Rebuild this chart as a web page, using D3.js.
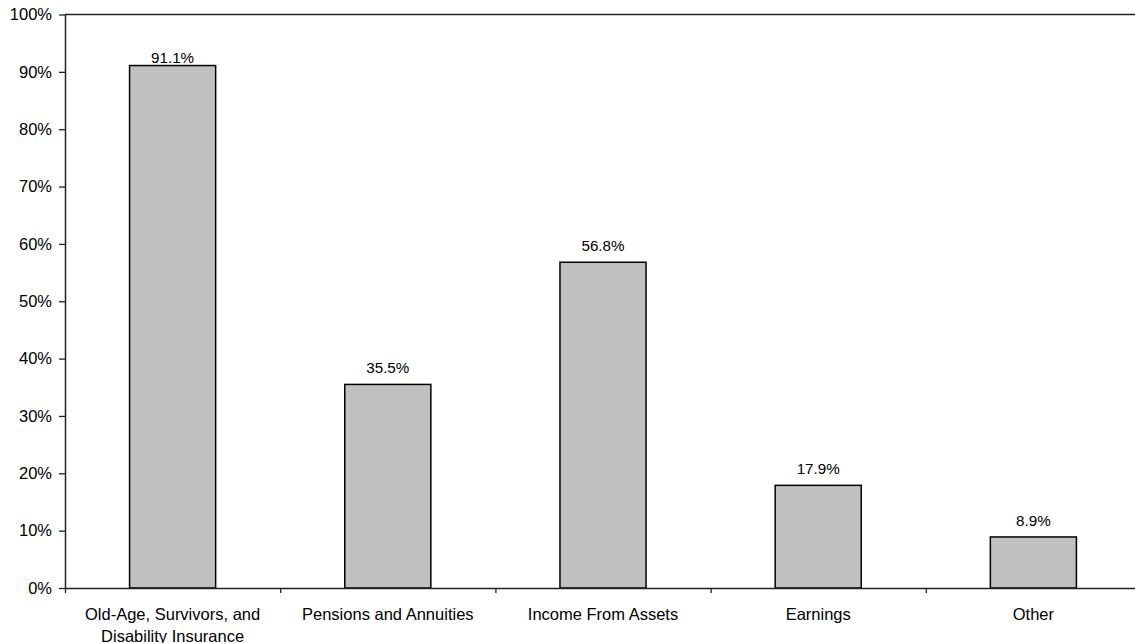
<!DOCTYPE html>
<html><head><meta charset="utf-8">
<script src="https://cdn.jsdelivr.net/npm/d3@7"></script>
<style>body{margin:0;background:#fff}svg{display:block}text{font-family:"Liberation Sans",Arial,sans-serif;fill:#000}</style>
</head><body>
<script>
const categories = [["Old-Age, Survivors, and","Disability Insurance"],["Pensions and Annuities"],["Income From Assets"],["Earnings"],["Other"]];
const values = [91.1, 35.5, 56.8, 17.9, 8.9];
const yTicks = [0,10,20,30,40,50,60,70,80,90,100];

const W = 1135, H = 643;
const mLeft = 65, mTop = 14.5, plotH = 573.5, plotW = 1076;
const svg = d3.select("body").append("svg").attr("width", W).attr("height", H);

const x = d3.scaleBand().domain(d3.range(categories.length)).range([mLeft, mLeft + plotW]).padding(0);
const y = d3.scaleLinear().domain([0,100]).range([mTop + plotH, mTop]);

// bars
svg.selectAll("rect.bar").data(values).enter().append("rect")
  .attr("x", (d,i) => x(i) + x.bandwidth()*0.3)
  .attr("width", x.bandwidth()*0.4)
  .attr("y", d => y(d))
  .attr("height", d => y(0) - y(d))
  .attr("fill", "#c0c0c0").attr("stroke", "#000").attr("stroke-width", 1.5);

// value labels (kept inside the plot area near the top)
svg.selectAll("text.val").data(values).enter().append("text")
  .attr("x", (d,i) => x(i) + x.bandwidth()/2)
  .attr("y", d => Math.max(y(d) - 11, mTop + 48))
  .attr("text-anchor", "middle").attr("font-size", 15.2)
  .text(d => d.toFixed(1) + "%");

// y axis
const yAxis = svg.append("g").attr("transform", `translate(${mLeft},0)`)
  .call(d3.axisLeft(y).tickValues(yTicks).tickFormat(d => d + "%").tickSize(6).tickPadding(7).tickSizeOuter(0));
yAxis.selectAll("text").attr("font-size", 16.5).style("font-family", '"Liberation Sans",Arial,sans-serif').attr("fill","#000");
yAxis.selectAll("line").attr("stroke", "#222").attr("stroke-width", 1.3);
yAxis.select(".domain").attr("stroke", "#222").attr("stroke-width", 1.5);

// x axis line and boundary ticks
const xb = d3.scaleLinear().domain([0, categories.length]).range([mLeft, mLeft + plotW]);
const xAxis = svg.append("g").attr("transform", `translate(0,${y(0)})`)
  .call(d3.axisBottom(xb).tickValues(d3.range(categories.length + 1)).tickFormat("").tickSize(5).tickSizeOuter(0));
xAxis.selectAll("line").attr("stroke", "#222").attr("stroke-width", 1.3);
xAxis.select(".domain").attr("stroke", "#222").attr("stroke-width", 1.5);

// top border
svg.append("line").attr("x1", mLeft).attr("x2", mLeft + plotW).attr("y1", y(100)).attr("y2", y(100))
  .attr("stroke", "#222").attr("stroke-width", 1.3);

// category labels
categories.forEach((lines, i) => {
  const t = svg.append("text").attr("x", x(i) + x.bandwidth()/2).attr("y", y(0) + 32)
    .attr("text-anchor", "middle").attr("font-size", 16.5);
  lines.forEach((l, j) => t.append("tspan").attr("x", x(i) + x.bandwidth()/2).attr("dy", j === 0 ? 0 : 21.5).text(l));
});
</script>
</body></html>
